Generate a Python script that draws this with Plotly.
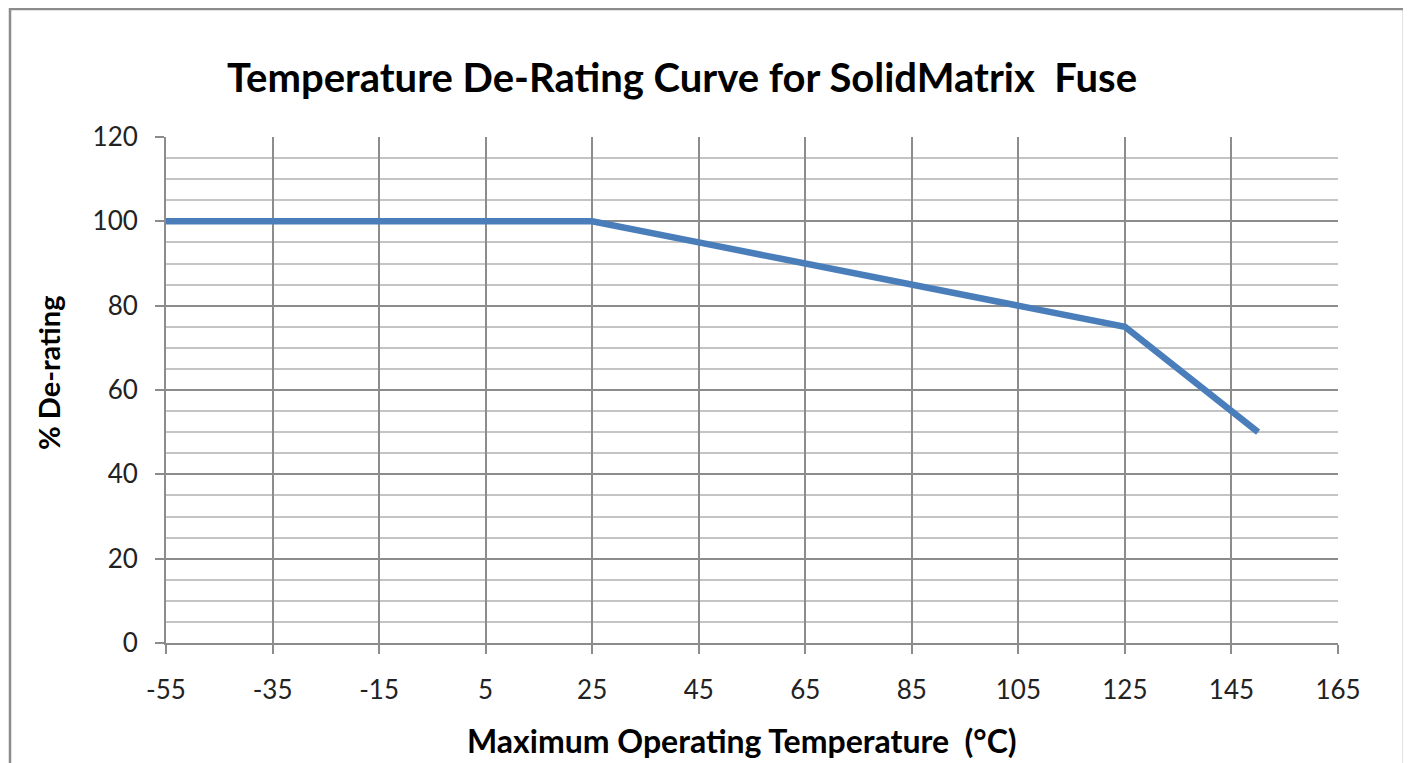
import plotly.graph_objects as go

temps = [-55, 25, 45, 65, 85, 105, 125, 150]
derating = [100, 100, 95, 90, 85, 80, 75, 50]
x_ticks = [-55, -35, -15, 5, 25, 45, 65, 85, 105, 125, 145, 165]
y_ticks = [0, 20, 40, 60, 80, 100, 120]

W, H = 1411, 763
OFF = 8  # page body offset
L, T = 166 - OFF, 137 - OFF
pw, ph = 1172, 506
R = W - L - pw
B = H - T - ph

def px2paper_x(px):
    return (px - OFF - L) / pw

def px2paper_y(py):
    return (T + ph - (py - OFF)) / ph

fig = go.Figure()
fig.add_trace(go.Scatter(x=temps, y=derating, mode="lines",
                         line=dict(color="#4A7EBB", width=6.5), showlegend=False))

font = "Lato, 'Open Sans', sans-serif"
fig.update_layout(
    width=W, height=H,
    margin=dict(l=L, r=R, t=T, b=B),
    paper_bgcolor="white", plot_bgcolor="white",
    font=dict(family=font, color="#222", size=20),
    title=dict(text="<b>Temperature De-Rating Curve for SolidMatrix  Fuse</b>",
               x=px2paper_x(682), xref="paper", xanchor="center",
               y=1 - (78 - OFF) / H, yanchor="middle",
               font=dict(size=40, color="black", family=font)),
    xaxis=dict(range=[-55, 165], tickmode="array", tickvals=x_ticks,
               ticktext=[str(v) for v in x_ticks],
               showgrid=True, gridcolor="#8c8c8c", gridwidth=2,
               showline=True, linecolor="#8c8c8c", linewidth=2,
               ticks="outside", ticklen=9, tickwidth=2, tickcolor="#8c8c8c",
               tickfont=dict(size=26, color="#222"), zeroline=False,
               ticklabelstandoff=14),
    yaxis=dict(range=[0, 120], tickmode="array", tickvals=y_ticks,
               showgrid=True, gridcolor="#8c8c8c", gridwidth=2,
               showline=True, linecolor="#8c8c8c", linewidth=2,
               ticks="outside", ticklen=9, tickwidth=2, tickcolor="#8c8c8c",
               tickfont=dict(size=26, color="#222"), zeroline=False,
               ticklabelstandoff=12,
               minor=dict(dtick=5, tick0=0, showgrid=True, gridcolor="#c4c4c4",
                          gridwidth=2, ticks="")),
)

fig.add_annotation(text="<b>Maximum Operating Temperature  (°C)</b>",
                   xref="paper", yref="paper",
                   x=px2paper_x(742), y=px2paper_y(740),
                   xanchor="center", yanchor="middle", showarrow=False,
                   font=dict(size=32, color="black", family=font))
fig.add_annotation(text="<b>% De-rating</b>",
                   xref="paper", yref="paper",
                   x=px2paper_x(48), y=px2paper_y(373),
                   xanchor="center", yanchor="middle", showarrow=False,
                   textangle=-90,
                   font=dict(size=29, color="black", family=font))

fig.add_shape(type="rect", xref="paper", yref="paper",
              x0=px2paper_x(10), x1=px2paper_x(1404),
              y0=px2paper_y(790), y1=px2paper_y(9),
              line=dict(color="#8c8c8c", width=2.5), fillcolor="rgba(0,0,0,0)",
              layer="below")

fig.write_html("out.html")
